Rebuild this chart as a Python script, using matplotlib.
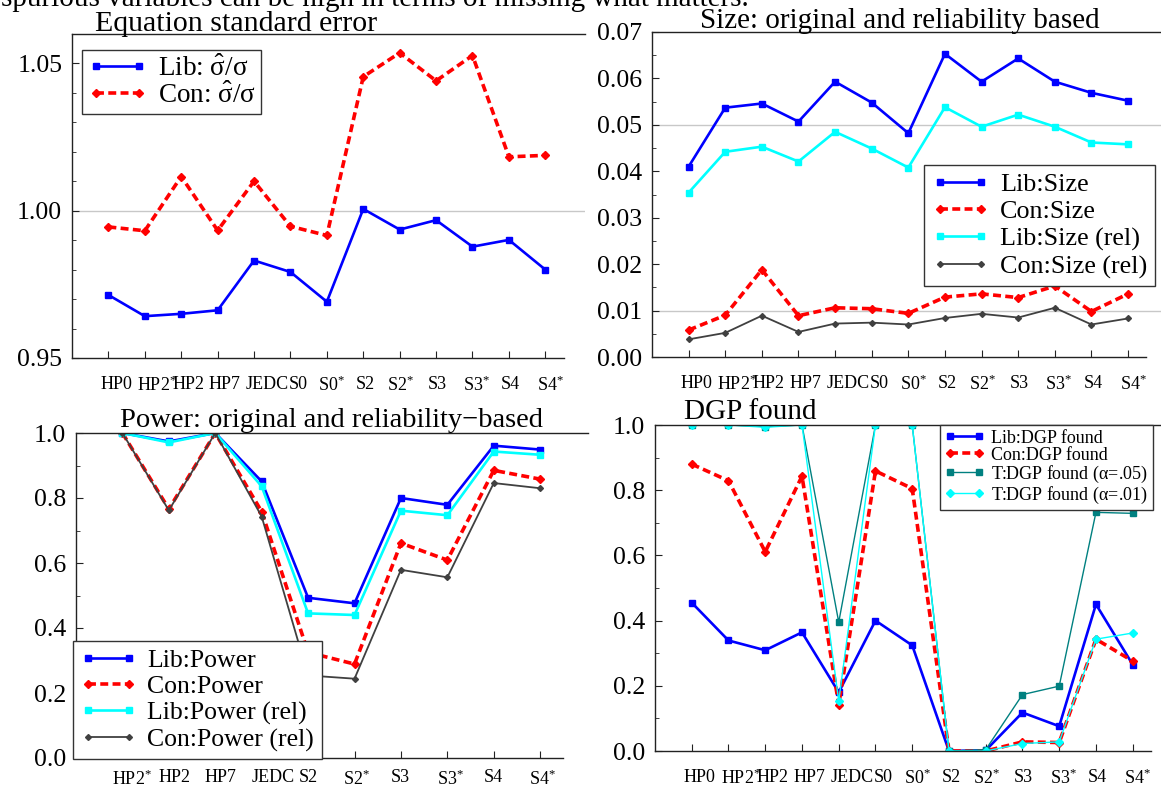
import matplotlib
matplotlib.use('Agg')
import matplotlib.pyplot as plt
from matplotlib.ticker import MultipleLocator
from matplotlib.transforms import ScaledTranslation

plt.rcParams['font.family'] = ['Liberation Serif', 'DejaVu Serif']
plt.rcParams['mathtext.fontset'] = 'custom'
plt.rcParams['mathtext.rm'] = 'Liberation Serif'
plt.rcParams['mathtext.it'] = 'Liberation Serif:italic'
plt.rcParams['mathtext.bf'] = 'Liberation Serif:bold'
plt.rcParams['mathtext.fallback'] = 'stix'

# ---------------- data ----------------
cats13 = ['HP0', r'$\mathrm{HP2}^{*}$', 'HP2', 'HP7', 'JEDC', 'S0', r'$\mathrm{S0}^{*}$',
          'S2', r'$\mathrm{S2}^{*}$', 'S3', r'$\mathrm{S3}^{*}$', 'S4', r'$\mathrm{S4}^{*}$']
cats10 = [r'$\mathrm{HP2}^{*}$', 'HP2', 'HP7', 'JEDC', 'S2', r'$\mathrm{S2}^{*}$',
          'S3', r'$\mathrm{S3}^{*}$', 'S4', r'$\mathrm{S4}^{*}$']

lib_sigma = [0.9714, 0.9642, 0.9650, 0.9662, 0.9831, 0.9792, 0.9691, 1.0006,
             0.9936, 0.9968, 0.9878, 0.9901, 0.9800]
con_sigma = [0.9945, 0.9932, 1.0116, 0.9933, 1.0100, 0.9947, 0.9916, 1.0455,
             1.0536, 1.0441, 1.0527, 1.0183, 1.0188]

lib_size = [0.0410, 0.0537, 0.0546, 0.0507, 0.0593, 0.0548, 0.0482, 0.0653,
            0.0593, 0.0643, 0.0593, 0.0569, 0.0552]
con_size = [0.0058, 0.0090, 0.0188, 0.0089, 0.0106, 0.0104, 0.0094, 0.0129,
            0.0136, 0.0128, 0.0153, 0.0098, 0.0136]
lib_size_rel = [0.0354, 0.0442, 0.0453, 0.0421, 0.0485, 0.0449, 0.0408, 0.0538,
                0.0496, 0.0522, 0.0496, 0.0462, 0.0458]
con_size_rel = [0.0038, 0.0052, 0.0089, 0.0054, 0.0072, 0.0074, 0.0070, 0.0084,
                0.0093, 0.0085, 0.0106, 0.0070, 0.0083]

lib_power = [1.0, 0.974, 1.0, 0.851, 0.493, 0.476, 0.800, 0.779, 0.961, 0.949]
con_power = [1.0, 0.766, 1.0, 0.758, 0.325, 0.289, 0.661, 0.609, 0.885, 0.858]
lib_power_rel = [1.0, 0.971, 1.0, 0.836, 0.445, 0.440, 0.761, 0.747, 0.943, 0.933]
con_power_rel = [1.0, 0.762, 1.0, 0.743, 0.254, 0.244, 0.579, 0.556, 0.846, 0.830]

lib_dgp = [0.455, 0.339, 0.309, 0.364, 0.180, 0.400, 0.324, 0.0, 0.002,
           0.118, 0.076, 0.450, 0.265]
con_dgp = [0.880, 0.829, 0.611, 0.843, 0.142, 0.859, 0.805, 0.0, 0.0,
           0.028, 0.026, 0.343, 0.276]
t_dgp_05 = [1.0, 1.0, 0.995, 1.0, 0.395, 1.0, 1.0, 0.0, 0.004,
            0.173, 0.199, 0.732, 0.729]
t_dgp_01 = [1.0, 1.0, 0.993, 1.0, 0.153, 1.0, 1.0, 0.0, 0.0,
            0.023, 0.028, 0.343, 0.362]

# ---------------- layout: horizontal nudges of x tick labels (pixels) ----------------
NUDGE13 = [8, 12, 7, 7, 13, 8, 5, 2, 1, 1, 4, 1.5, 5]
NUDGE10 = [10, 6, 5, 12, 0, 2, -1, 3, 0, 2]

# ---------------- styles ----------------
LIB = dict(color='#0000ff', lw=1.9, marker='s', ms=4)
CON = dict(color='#ff0000', lw=2.6, ls=(0, (2.2, 1.2)), marker='D', ms=4.3)
LIBR = dict(color='#00ffff', lw=1.9, marker='s', ms=4)
CONR = dict(color='#404040', lw=1.3, marker='D', ms=3)
T05 = dict(color='#008080', lw=1.0, marker='s', ms=4)
T01 = dict(color='#00ffff', lw=1.0, marker='D', ms=4)

W, H = 1161, 794
fig = plt.figure(figsize=(W / 100, H / 100), dpi=100)


def add_ax(l, t, r, b):
    return fig.add_axes([l / W, 1 - b / H, (r - l) / W, (b - t) / H])


def style(ax, cats, xmax, spine_end, nudges, xpad=13):
    n = len(cats)
    ax.set_xlim(-1, xmax)
    ax.spines['right'].set_visible(False)
    ax.spines['bottom'].set_bounds(-1, spine_end)
    for s in ('top', 'left', 'bottom'):
        ax.spines[s].set_color('#222222')
        ax.spines[s].set_linewidth(1.0)
    ax.set_xticks(range(n))
    ax.set_xticklabels(cats, fontsize=13)
    ax.tick_params(axis='x', direction='in', length=5, pad=xpad, color='#222222')
    ax.tick_params(axis='y', which='major', direction='in', length=5, pad=7,
                   labelsize=18.5, color='#222222')
    ax.tick_params(axis='y', which='minor', direction='in', length=3, color='#222222')
    for lab, dx in zip(ax.get_xticklabels(), nudges):
        lab.set_transform(lab.get_transform()
                          + ScaledTranslation(dx / 100, 0, fig.dpi_scale_trans))


def legend(ax, loc_px, fs, labelspacing=0.1, borderpad=0.3):
    x, y = loc_px
    lg = ax.legend(loc='upper left', bbox_to_anchor=(x / W, 1 - y / H),
                   bbox_transform=fig.transFigure, borderaxespad=0,
                   fontsize=fs, frameon=True, fancybox=False, framealpha=1,
                   edgecolor='#333333', numpoints=2, borderpad=borderpad,
                   labelspacing=labelspacing, handlelength=2.2, handletextpad=0.4)
    lg.get_frame().set_linewidth(1.0)
    return lg


TITLE_FS = 21

# ---------------- top-left ----------------
ax1 = add_ax(72, 34, 585, 358)
x13 = list(range(len(cats13)))
ax1.axhline(1.0, color='#c8c8c8', lw=1, zorder=0)
ax1.plot(x13, lib_sigma, label=r'Lib: $\hat{\mathrm{\sigma}}/\mathrm{\sigma}$', **LIB)
ax1.plot(x13, con_sigma, label=r'Con: $\hat{\mathrm{\sigma}}/\mathrm{\sigma}$', **CON)
ax1.set_ylim(0.95, 1.06)
ax1.set_yticks([0.95, 1.00, 1.05])
ax1.set_yticklabels(['0.95', '1.00', '1.05'])
ax1.yaxis.set_minor_locator(MultipleLocator(0.01))
style(ax1, cats13, 13.09, 12.5, NUDGE13)
legend(ax1, (82, 50), 19.5, labelspacing=0.02, borderpad=0.2)
fig.text(95 / W, 1 - 31 / H, 'Equation standard error', fontsize=21.5, va='baseline')

# ---------------- top-right ----------------
ax2 = add_ax(652, 32, 1161, 357)
for yv in (0.01, 0.05):
    ax2.axhline(yv, color='#c8c8c8', lw=1, zorder=0)
ax2.plot(x13, lib_size, label='Lib:Size', **LIB)
ax2.plot(x13, con_size, label='Con:Size', **CON)
ax2.plot(x13, lib_size_rel, label='Lib:Size (rel)', **LIBR)
ax2.plot(x13, con_size_rel, label='Con:Size (rel)', **CONR)
ax2.set_ylim(0, 0.07)
ax2.set_yticks([0, 0.01, 0.02, 0.03, 0.04, 0.05, 0.06, 0.07])
ax2.set_yticklabels(['0.00', '0.01', '0.02', '0.03', '0.04', '0.05', '0.06', '0.07'])
ax2.yaxis.set_minor_locator(MultipleLocator(0.005))
style(ax2, cats13, 12.9, 12.5, NUDGE13)
legend(ax2, (924, 165), 18.8, labelspacing=0.15)
fig.text(700 / W, 1 - 28 / H, 'Size: original and reliability based', fontsize=TITLE_FS,
         va='baseline')

# ---------------- bottom-left ----------------
ax3 = add_ax(76, 433, 588, 758)
x10 = list(range(len(cats10)))
ax3.plot(x10, lib_power, label='Lib:Power', **LIB)
ax3.plot(x10, con_power, label='Con:Power', **CON)
ax3.plot(x10, lib_power_rel, label='Lib:Power (rel)', **LIBR)
ax3.plot(x10, con_power_rel, label='Con:Power (rel)', **CONR)
ax3.set_ylim(0, 1.0)
ax3.set_yticks([0, 0.2, 0.4, 0.6, 0.8, 1.0])
ax3.set_yticklabels(['0.0', '0.2', '0.4', '0.6', '0.8', '1.0'])
ax3.yaxis.set_minor_locator(MultipleLocator(0.1))
style(ax3, cats10, 10.03, 9.5, NUDGE10, xpad=8)
legend(ax3, (72.7, 641), 18.5, labelspacing=0.13)
fig.text(120 / W, 1 - 427 / H, 'Power: original and reliability\u2212based', fontsize=20.5,
         va='baseline')

# ---------------- bottom-right ----------------
ax4 = add_ax(655, 425, 1161, 751)
ax4.plot(x13, lib_dgp, label='Lib:DGP found', **LIB)
ax4.plot(x13, con_dgp, label='Con:DGP found', **CON)
ax4.plot(x13, t_dgp_05, label=r'T:DGP found ($\mathrm{\alpha}$=.05)', **T05)
ax4.plot(x13, t_dgp_01, label=r'T:DGP found ($\mathrm{\alpha}$=.01)', **T01)
ax4.set_ylim(0, 1.0)
ax4.set_yticks([0, 0.2, 0.4, 0.6, 0.8, 1.0])
ax4.set_yticklabels(['0.0', '0.2', '0.4', '0.6', '0.8', '1.0'])
ax4.yaxis.set_minor_locator(MultipleLocator(0.1))
style(ax4, cats13, 12.77, 12.5, NUDGE13)
legend(ax4, (940, 425), 13, labelspacing=0.0, borderpad=0.25)
fig.text(684 / W, 1 - 419 / H, 'DGP found', fontsize=TITLE_FS, va='baseline')

# clipped text from the page above the figure
fig.text(1 / W, 1 - 6 / H, 'spurious variables can be high in terms of missing what matters.',
         fontsize=21, va='baseline')

fig.savefig('out.png', dpi=100)
